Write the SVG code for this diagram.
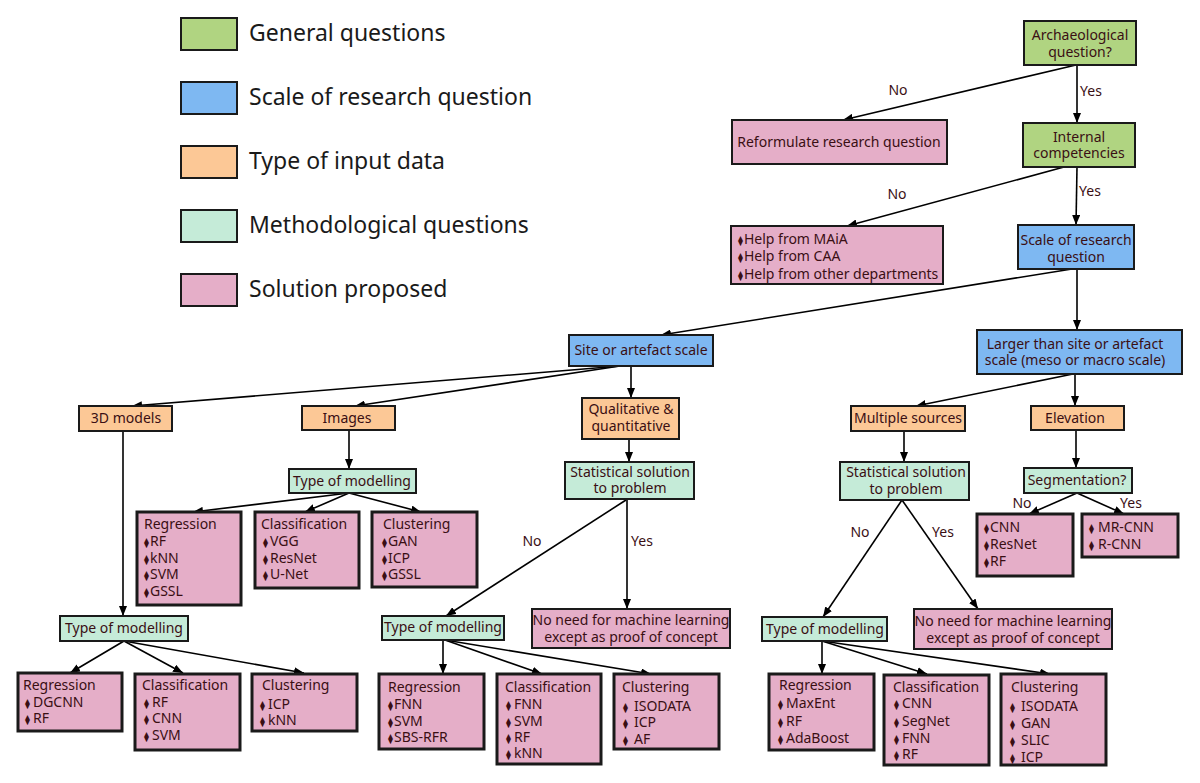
<svg xmlns="http://www.w3.org/2000/svg" width="1200" height="783" viewBox="0 0 1200 783">
<defs>
<marker id="ah" viewBox="0 0 10 8" refX="10" refY="4" markerWidth="10" markerHeight="8" markerUnits="userSpaceOnUse" orient="auto">
<path d="M0,0 L10,4 L0,8 z" fill="#000"/>
</marker>
<style>
.g{fill:#b0d481;stroke:#1a1a1a;stroke-width:2}
.b{fill:#7eb8f2;stroke:#1a1a1a;stroke-width:2}
.o{fill:#fcc896;stroke:#1a1a1a;stroke-width:2}
.m{fill:#c5ebd8;stroke:#1a1a1a;stroke-width:2}
.p{fill:#e5aec8;stroke:#1a1a1a;stroke-width:2}
.s{fill:#e5aec8;stroke:#1a1a1a;stroke-width:3}
text{font-family:"Noto Sans","Open Sans","DejaVu Sans",sans-serif;font-size:14px;fill:#3a0f14}
.c{text-anchor:middle}
.lg{font-size:23px;fill:#1a1a1a}
.bl{font-family:"DejaVu Sans",sans-serif;font-size:10px}
#conn line{stroke:#000;stroke-width:1.6;marker-end:url(#ah)}
</style>
</defs>
<rect width="1200" height="783" fill="#fff"/>

<g id="legend">
<rect class="g" x="181" y="18" width="56" height="32"/>
<text class="lg" x="249" y="41">General questions</text>
<rect class="b" x="181" y="82" width="56" height="32"/>
<text class="lg" x="249" y="105">Scale of research question</text>
<rect class="o" x="181" y="146" width="56" height="32"/>
<text class="lg" x="249" y="169">Type of input data</text>
<rect class="m" x="181" y="210" width="56" height="32"/>
<text class="lg" x="249" y="233">Methodological questions</text>
<rect class="p" x="181" y="274" width="56" height="32"/>
<text class="lg" x="249" y="297">Solution proposed</text>
</g>

<g id="conn">
<line x1="1077" y1="65" x2="1077" y2="123"/>
<line x1="1076" y1="65" x2="843" y2="120"/>
<line x1="1064" y1="167" x2="847" y2="226"/>
<line x1="1077" y1="167" x2="1076" y2="225"/>
<line x1="1072" y1="269" x2="661" y2="335"/>
<line x1="1077" y1="269" x2="1077" y2="330"/>
<line x1="620" y1="366" x2="132" y2="406"/>
<line x1="620" y1="366" x2="355" y2="406"/>
<line x1="631" y1="366" x2="631" y2="398"/>
<line x1="629" y1="439" x2="629" y2="462"/>
<line x1="626" y1="500" x2="446" y2="616"/>
<line x1="627" y1="500" x2="627" y2="609"/>
<line x1="123" y1="431" x2="123" y2="616"/>
<line x1="349" y1="430" x2="349" y2="469"/>
<line x1="349" y1="493" x2="193" y2="512"/>
<line x1="349" y1="493" x2="305" y2="512"/>
<line x1="349" y1="493" x2="421" y2="512"/>
<line x1="124" y1="641" x2="70" y2="673"/>
<line x1="124" y1="641" x2="183" y2="673"/>
<line x1="124" y1="641" x2="304" y2="673"/>
<line x1="443" y1="640" x2="443" y2="674"/>
<line x1="445" y1="640" x2="542" y2="674"/>
<line x1="445" y1="640" x2="651" y2="674"/>
<line x1="1073" y1="374" x2="916" y2="406"/>
<line x1="1075" y1="374" x2="1075" y2="406"/>
<line x1="904" y1="431" x2="904" y2="462"/>
<line x1="1076" y1="430" x2="1076" y2="468"/>
<line x1="902" y1="500" x2="823" y2="617"/>
<line x1="902" y1="500" x2="978" y2="609"/>
<line x1="1077" y1="493" x2="1029" y2="514"/>
<line x1="1077" y1="493" x2="1124" y2="514"/>
<line x1="822" y1="641" x2="822" y2="674"/>
<line x1="822" y1="641" x2="927" y2="674"/>
<line x1="822" y1="641" x2="1050" y2="674"/>
<text class="c" x="898" y="95">No</text>
<text class="c" x="1091" y="96">Yes</text>
<text class="c" x="897" y="199">No</text>
<text class="c" x="1090" y="196">Yes</text>
<text class="c" x="532" y="546">No</text>
<text class="c" x="642" y="546">Yes</text>
<text class="c" x="860" y="537">No</text>
<text class="c" x="943" y="537">Yes</text>
<text class="c" x="1022" y="508">No</text>
<text class="c" x="1131" y="508">Yes</text>
</g>

<g id="n-arch"><rect class="g" x="1024" y="21" width="112" height="44"/>
<text class="c" x="1080" y="40">Archaeological<tspan x="1080" y="57">question?</tspan></text></g>
<g id="n-reform"><rect class="p" x="732" y="120" width="215" height="44"/>
<text class="c" x="839" y="147">Reformulate research question</text></g>
<g id="n-internal"><rect class="g" x="1023" y="123" width="112" height="44"/>
<text class="c" x="1079" y="142">Internal<tspan x="1079" y="158">competencies</tspan></text></g>
<g id="n-help"><rect class="p" x="731" y="226" width="212" height="58"/>
<text x="738" y="244"><tspan class="bl">⧫</tspan><tspan dx="1">Help from MAiA</tspan><tspan x="738" y="261" class="bl">⧫</tspan><tspan dx="1">Help from CAA</tspan><tspan x="738" y="279" class="bl">⧫</tspan><tspan dx="1">Help from other departments</tspan></text></g>
<g id="n-scale"><rect class="b" x="1018" y="225" width="116" height="44"/>
<text class="c" x="1076" y="245">Scale of research<tspan x="1076" y="262">question</tspan></text></g>

<g id="n-site"><rect class="b" x="569" y="335" width="144" height="31"/>
<text class="c" x="641" y="355">Site or artefact scale</text></g>
<g id="n-larger"><rect class="b" x="977" y="330" width="205" height="44"/>
<text class="c" x="1075" y="349">Larger than site or artefact<tspan x="1075" y="365">scale (meso or macro scale)</tspan></text></g>

<g id="n-3d"><rect class="o" x="79" y="406" width="93" height="25"/>
<text class="c" x="126" y="423">3D models</text></g>
<g id="n-images"><rect class="o" x="302" y="406" width="93" height="24"/>
<text class="c" x="347" y="423">Images</text></g>
<g id="n-qual"><rect class="o" x="582" y="398" width="97" height="41"/>
<text class="c" x="631" y="414">Qualitative &amp;<tspan x="631" y="431">quantitative</tspan></text></g>
<g id="n-multi"><rect class="o" x="851" y="406" width="114" height="25"/>
<text class="c" x="908" y="423">Multiple sources</text></g>
<g id="n-elev"><rect class="o" x="1031" y="406" width="93" height="24"/>
<text class="c" x="1075" y="423">Elevation</text></g>

<g id="n-type-img"><rect class="m" x="289" y="469" width="127" height="24"/>
<text class="c" x="352" y="486">Type of modelling</text></g>
<g id="n-stat-mid"><rect class="m" x="565" y="462" width="129" height="37"/>
<text class="c" x="630" y="477">Statistical solution<tspan x="630" y="493">to problem</tspan></text></g>
<g id="n-stat-right"><rect class="m" x="840" y="462" width="129" height="38"/>
<text class="c" x="906" y="477">Statistical solution<tspan x="906" y="494">to problem</tspan></text></g>
<g id="n-seg"><rect class="m" x="1024" y="468" width="108" height="25"/>
<text class="c" x="1077" y="485">Segmentation?</text></g>

<g id="n-img-reg"><rect class="s" x="137" y="512" width="104" height="93"/>
<text x="144" y="529">Regression<tspan x="144" y="546" class="bl">⧫</tspan><tspan dx="1">RF</tspan><tspan x="144" y="563" class="bl">⧫</tspan><tspan dx="1">kNN</tspan><tspan x="144" y="579" class="bl">⧫</tspan><tspan dx="1">SVM</tspan><tspan x="144" y="596" class="bl">⧫</tspan><tspan dx="1">GSSL</tspan></text></g>
<g id="n-img-cla"><rect class="s" x="255" y="512" width="104" height="76"/>
<text x="261" y="529">Classification<tspan x="263" y="546" class="bl">⧫</tspan><tspan dx="2">VGG</tspan><tspan x="263" y="563" class="bl">⧫</tspan><tspan dx="2">ResNet</tspan><tspan x="263" y="579" class="bl">⧫</tspan><tspan dx="2">U-Net</tspan></text></g>
<g id="n-img-clu"><rect class="s" x="372" y="512" width="105" height="75"/>
<text x="383" y="529">Clustering<tspan x="382" y="546" class="bl">⧫</tspan><tspan dx="1">GAN</tspan><tspan x="382" y="563" class="bl">⧫</tspan><tspan dx="1">ICP</tspan><tspan x="382" y="579" class="bl">⧫</tspan><tspan dx="1">GSSL</tspan></text></g>

<g id="n-cnn"><rect class="s" x="977" y="514" width="96" height="62"/>
<text x="984" y="532"><tspan class="bl">⧫</tspan><tspan dx="1">CNN</tspan><tspan x="984" y="549" class="bl">⧫</tspan><tspan dx="1">ResNet</tspan><tspan x="984" y="566" class="bl">⧫</tspan><tspan dx="1">RF</tspan></text></g>
<g id="n-mrcnn"><rect class="s" x="1082" y="514" width="96" height="43"/>
<text x="1089" y="532"><tspan class="bl">⧫</tspan><tspan dx="4">MR-CNN</tspan><tspan x="1089" y="549" class="bl">⧫</tspan><tspan dx="4">R-CNN</tspan></text></g>

<g id="n-type-3d"><rect class="m" x="60" y="616" width="128" height="25"/>
<text class="c" x="124" y="633">Type of modelling</text></g>
<g id="n-type-mid"><rect class="m" x="382" y="616" width="122" height="24"/>
<text class="c" x="443" y="632">Type of modelling</text></g>
<g id="n-noneed-mid"><rect class="p" x="532" y="609" width="198" height="39"/>
<text class="c" x="631" y="625">No need for machine learning<tspan x="631" y="642">except as proof of concept</tspan></text></g>
<g id="n-type-right"><rect class="m" x="762" y="617" width="125" height="24"/>
<text class="c" x="825" y="634">Type of modelling</text></g>
<g id="n-noneed-right"><rect class="p" x="914" y="609" width="198" height="40"/>
<text class="c" x="1013" y="626">No need for machine learning<tspan x="1013" y="643">except as proof of concept</tspan></text></g>

<g id="n-3d-reg"><rect class="s" x="18" y="673" width="104" height="58"/>
<text x="23" y="690">Regression<tspan x="25" y="707" class="bl">⧫</tspan><tspan dx="3">DGCNN</tspan><tspan x="25" y="723" class="bl">⧫</tspan><tspan dx="3">RF</tspan></text></g>
<g id="n-3d-cla"><rect class="s" x="135" y="674" width="105" height="76"/>
<text x="142" y="690">Classification<tspan x="144" y="707" class="bl">⧫</tspan><tspan dx="3">RF</tspan><tspan x="144" y="723" class="bl">⧫</tspan><tspan dx="3">CNN</tspan><tspan x="144" y="740" class="bl">⧫</tspan><tspan dx="3">SVM</tspan></text></g>
<g id="n-3d-clu"><rect class="s" x="252" y="674" width="105" height="57"/>
<text x="262" y="690">Clustering<tspan x="260" y="709" class="bl">⧫</tspan><tspan dx="3">ICP</tspan><tspan x="260" y="725" class="bl">⧫</tspan><tspan dx="3">kNN</tspan></text></g>

<g id="n-mid-reg"><rect class="s" x="379" y="674" width="105" height="75"/>
<text x="388" y="692">Regression<tspan x="388" y="709" class="bl">⧫</tspan><tspan dx="1">FNN</tspan><tspan x="388" y="726" class="bl">⧫</tspan><tspan dx="1">SVM</tspan><tspan x="388" y="742" class="bl">⧫</tspan><tspan dx="1">SBS-RFR</tspan></text></g>
<g id="n-mid-cla"><rect class="s" x="497" y="674" width="104" height="90"/>
<text x="505" y="692">Classification<tspan x="506" y="709" class="bl">⧫</tspan><tspan dx="3">FNN</tspan><tspan x="506" y="726" class="bl">⧫</tspan><tspan dx="3">SVM</tspan><tspan x="506" y="742" class="bl">⧫</tspan><tspan dx="3">RF</tspan><tspan x="506" y="758" class="bl">⧫</tspan><tspan dx="3">kNN</tspan></text></g>
<g id="n-mid-clu"><rect class="s" x="614" y="674" width="105" height="75"/>
<text x="622" y="692">Clustering<tspan x="623" y="711" class="bl">⧫</tspan><tspan dx="6">ISODATA</tspan><tspan x="623" y="727" class="bl">⧫</tspan><tspan dx="6">ICP</tspan><tspan x="623" y="744" class="bl">⧫</tspan><tspan dx="6">AF</tspan></text></g>

<g id="n-r-reg"><rect class="s" x="769" y="674" width="105" height="76"/>
<text x="779" y="690">Regression<tspan x="778" y="708" class="bl">⧫</tspan><tspan dx="3">MaxEnt</tspan><tspan x="778" y="726" class="bl">⧫</tspan><tspan dx="3">RF</tspan><tspan x="778" y="743" class="bl">⧫</tspan><tspan dx="3">AdaBoost</tspan></text></g>
<g id="n-r-cla"><rect class="s" x="884" y="675" width="105" height="90"/>
<text x="893" y="692">Classification<tspan x="894" y="708" class="bl">⧫</tspan><tspan dx="3">CNN</tspan><tspan x="894" y="726" class="bl">⧫</tspan><tspan dx="3">SegNet</tspan><tspan x="894" y="743" class="bl">⧫</tspan><tspan dx="3">FNN</tspan><tspan x="894" y="759" class="bl">⧫</tspan><tspan dx="3">RF</tspan></text></g>
<g id="n-r-clu"><rect class="s" x="1001" y="674" width="105" height="91"/>
<text x="1011" y="692">Clustering<tspan x="1010" y="711" class="bl">⧫</tspan><tspan dx="6">ISODATA</tspan><tspan x="1010" y="728" class="bl">⧫</tspan><tspan dx="6">GAN</tspan><tspan x="1010" y="745" class="bl">⧫</tspan><tspan dx="6">SLIC</tspan><tspan x="1010" y="762" class="bl">⧫</tspan><tspan dx="6">ICP</tspan></text></g>
</svg>
